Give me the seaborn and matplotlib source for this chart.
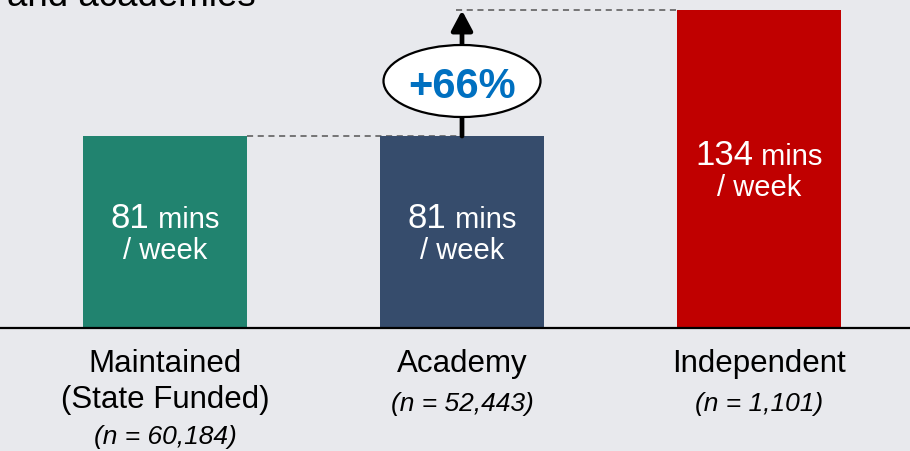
import matplotlib
matplotlib.use("Agg")
import matplotlib.pyplot as plt
import matplotlib.transforms as mtransforms
from matplotlib.patches import Ellipse
import pandas as pd
import seaborn as sns

# ---- data ---------------------------------------------------------------
school_types = ["Maintained", "Academy", "Independent"]
type_lines = [["Maintained", "(State Funded)"], ["Academy"], ["Independent"]]
minutes_per_week = [81, 81, 134]
sample_sizes = ["60,184", "52,443", "1,101"]
bar_colors = ["#21836f", "#364c6c", "#c00000"]
uplift_label = "+66%"
heading_tail = "and academies"

# ---- style --------------------------------------------------------------
sns.set_theme(style="white")
plt.rcParams["font.family"] = ["Liberation Sans", "DejaVu Sans"]

BG = "#e8e9ed"
W, H, DPI = 910, 451, 100
fig = plt.figure(figsize=(W / DPI, H / DPI), dpi=DPI, facecolor=BG)
ax = fig.add_axes([0, 0, 1, 1])
ax.set_facecolor(BG)

# pixel layout of the canvas
X0, XSTEP = 165, 297          # centre of first bar, spacing between bars (px)
Y0, YSCALE = 328, 2.37        # baseline row (px from top), px per minute


def y_at(px):
    """Data y for a pixel row measured from the top of the canvas."""
    return (Y0 - px) / YSCALE


df = pd.DataFrame({"school": school_types, "minutes": minutes_per_week})
sns.barplot(data=df, x="school", y="minutes", hue="school", palette=bar_colors,
            saturation=1, width=0.552, legend=False, ax=ax, zorder=2,
            linewidth=0, edgecolor="none")

ax.set_xlim(-X0 / XSTEP, (W - X0) / XSTEP)
ax.set_ylim(-(H - Y0) / YSCALE, Y0 / YSCALE)
ax.axis("off")
ax.axhline(0, color="black", lw=1.6, zorder=3)

half = 0.552 / 2
renderer = fig.canvas.get_renderer()

# ---- value labels inside the bars ----------------------------------------
for i, v in enumerate(minutes_per_week):
    mid_px = Y0 - v * YSCALE / 2
    t1 = ax.text(i, y_at(mid_px - 4), f"{v}", color="white", fontsize=25,
                 ha="left", va="baseline", zorder=4)
    t2 = ax.text(i, y_at(mid_px - 4), " mins", color="white", fontsize=21,
                 ha="left", va="baseline", zorder=4)
    w1 = t1.get_window_extent(renderer).width
    w2 = t2.get_window_extent(renderer).width
    start = -(w1 + w2) / 2
    t1.set_transform(mtransforms.offset_copy(ax.transData, fig=fig, x=start, units="dots"))
    t2.set_transform(mtransforms.offset_copy(ax.transData, fig=fig, x=start + w1, units="dots"))
    ax.text(i, y_at(mid_px + 27), "/ week", color="white", fontsize=21,
            ha="center", va="baseline", zorder=4)

# ---- category labels below the axis --------------------------------------
for i, (lines, n) in enumerate(zip(type_lines, sample_sizes)):
    row = 372
    for line in lines:
        ax.text(i, y_at(row), line, fontsize=22.5, color="black",
                ha="center", va="baseline")
        row += 36
    ax.text(i, y_at(row + (0 if len(lines) > 1 else 3)), f"(n = {n})",
            fontsize=19, style="italic", color="black", ha="center", va="baseline")

# ---- uplift marker --------------------------------------------------------
base, top = minutes_per_week[1], minutes_per_week[2]
ax.plot([0 + half, 1], [base, base], color="#555555", lw=1.1,
        ls=(0, (4, 3)), zorder=1)
ax.plot([1 - 0.02, 2 - half], [top, top], color="#555555", lw=1.1,
        ls=(0, (4, 3)), zorder=1)
ax.annotate("", xy=(1, top), xytext=(1, base),
            arrowprops=dict(arrowstyle="-|>,head_length=0.6,head_width=0.32",
                            mutation_scale=20, lw=3.4, color="black",
                            shrinkA=0, shrinkB=0),
            zorder=3)
ell = Ellipse((1, y_at(81)), width=157 / XSTEP, height=72 / YSCALE,
              facecolor="white", edgecolor="black", lw=1.6, zorder=5)
ax.add_patch(ell)
ax.text(1, y_at(98), uplift_label, fontsize=30, fontweight="bold",
        color="#0070c0", ha="center", va="baseline", zorder=6)

# ---- heading (continues above the canvas) --------------------------------
ax.text((7 - X0) / XSTEP, y_at(6), heading_tail, fontsize=26.5, color="black",
        ha="left", va="baseline", clip_on=False)

fig.savefig("out.png", dpi=DPI, facecolor=BG)
